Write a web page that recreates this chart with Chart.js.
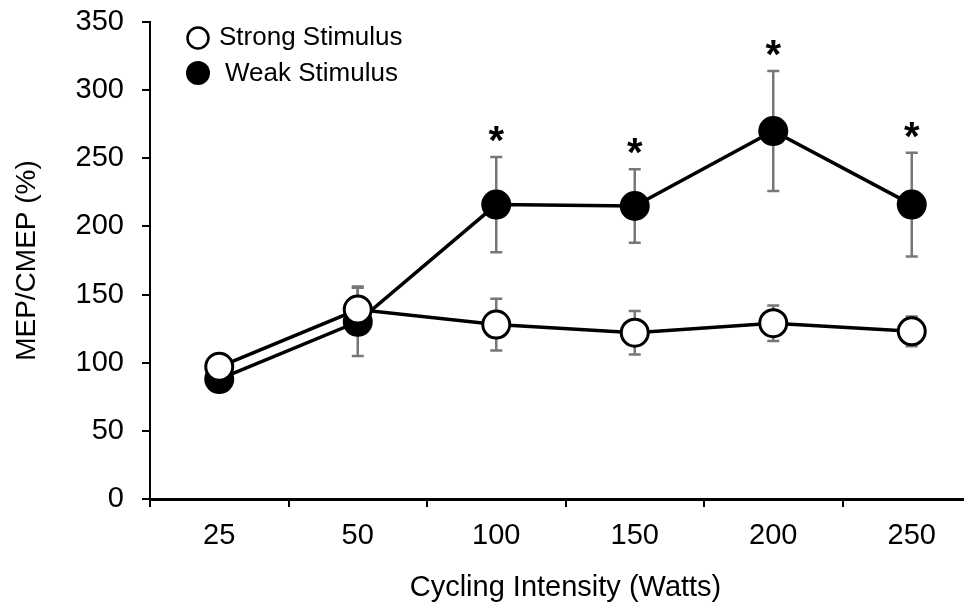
<!DOCTYPE html>
<html>
<head>
<meta charset="utf-8">
<script src="https://cdn.jsdelivr.net/npm/chart.js@4/dist/chart.umd.min.js"></script>
<style>
  html, body { margin: 0; padding: 0; background: #fff; overflow: hidden; }
  #wrap { width: 1000px; height: 609px; }
</style>
</head>
<body>
<div id="wrap"><canvas id="canvas" width="1000" height="609"></canvas></div>
<script>
// values
var intensities = ['25', '50', '100', '150', '200', '250'];
var strongMean = [97, 139, 128, 122, 129, 123];
var strongSD   = [6, 17, 19, 16, 13, 11];
var weakMean   = [88, 130, 216, 215, 270, 216];
var weakSD     = [6, 25, 35, 27, 44, 38];
var weakSig    = [false, false, true, true, true, true];
var yTicks     = [0, 50, 100, 150, 200, 250, 300, 350];

var FONT = '"Liberation Sans", Arial, sans-serif';

var errorBars = {
    id: 'errorBars',
    beforeDatasetsDraw: function (chart) {
        var ctx = chart.ctx, y = chart.scales.y;
        chart.data.datasets.forEach(function (ds, di) {
            var meta = chart.getDatasetMeta(di);
            ctx.save();
            ctx.strokeStyle = '#777';
            ctx.lineWidth = 2.5;
            meta.data.forEach(function (pt, i) {
                var hi = y.getPixelForValue(ds.data[i] + ds.sd[i]);
                var lo = y.getPixelForValue(ds.data[i] - ds.sd[i]);
                ctx.beginPath();
                ctx.moveTo(pt.x, hi); ctx.lineTo(pt.x, lo);
                ctx.moveTo(pt.x - 6, hi); ctx.lineTo(pt.x + 6, hi);
                ctx.moveTo(pt.x - 6, lo); ctx.lineTo(pt.x + 6, lo);
                ctx.stroke();
            });
            ctx.restore();
        });
    },
    afterDatasetsDraw: function (chart) {
        var ctx = chart.ctx, y = chart.scales.y;
        var meta = chart.getDatasetMeta(1);
        ctx.save();
        ctx.fillStyle = '#000';
        ctx.font = 'bold 40px ' + FONT;
        ctx.textAlign = 'center';
        ctx.textBaseline = 'middle';
        meta.data.forEach(function (pt, i) {
            if (!weakSig[i]) return;
            var top = y.getPixelForValue(weakMean[i] + weakSD[i]);
            ctx.fillText('*', pt.x, top - 14);
        });
        // legend
        ctx.font = '26px ' + FONT;
        ctx.textAlign = 'left';
        ctx.lineWidth = 2.5;
        ctx.strokeStyle = '#000';
        ctx.beginPath(); ctx.arc(198, 38, 10.5, 0, Math.PI * 2);
        ctx.fillStyle = '#fff'; ctx.fill(); ctx.stroke();
        ctx.fillStyle = '#000';
        ctx.fillText(chart.data.datasets[0].label, 219, 38);
        ctx.beginPath(); ctx.arc(198, 73, 12, 0, Math.PI * 2); ctx.fill();
        ctx.fillText(chart.data.datasets[1].label, 225, 74);
        ctx.restore();
    }
};

var ctx = document.getElementById('canvas').getContext('2d');
var chart = new Chart(ctx, {
    type: 'line',
    data: {
        labels: intensities,
        datasets: [{
            label: 'Strong Stimulus',
            data: strongMean,
            sd: strongSD,
            order: 0,
            borderColor: '#000',
            borderWidth: 3.5,
            pointRadius: 13.5,
            pointBorderWidth: 3,
            pointBackgroundColor: '#fff',
            pointBorderColor: '#000'
        }, {
            label: 'Weak Stimulus',
            data: weakMean,
            sd: weakSD,
            order: 1,
            borderColor: '#000',
            borderWidth: 3.5,
            pointRadius: 15,
            pointBorderWidth: 0,
            pointBackgroundColor: '#000',
            pointBorderColor: '#000'
        }]
    },
    options: {
        responsive: false,
        animation: false,
        layout: { padding: { top: 22, right: 19, bottom: 0, left: 0 } },
        plugins: { legend: { display: false }, tooltip: { enabled: false } },
        scales: {
            x: {
                offset: true,
                grid: { offset: true, drawOnChartArea: false, drawTicks: true, tickLength: 8, color: '#000', lineWidth: 2 },
                border: { color: '#000', width: 3 },
                ticks: { color: '#000', font: { family: FONT, size: 29 }, padding: 12, maxRotation: 0 },
                title: { display: true, text: 'Cycling Intensity (Watts)', color: '#000', font: { family: FONT, size: 29 }, padding: { top: 12 } },
                afterFit: function (s) { s.height = 110; s.paddingLeft = 0; s.paddingRight = 0; }
            },
            y: {
                min: 0,
                max: 350,
                afterBuildTicks: function (s) { s.ticks = yTicks.map(function (v) { return { value: v }; }); },
                grid: { drawOnChartArea: false, drawTicks: true, tickLength: 8, color: '#000', lineWidth: 2 },
                border: { color: '#000', width: 2 },
                ticks: { color: '#000', font: { family: FONT, size: 29 }, padding: 18 },
                title: { display: true, text: 'MEP/CMEP (%)', color: '#000', font: { family: FONT, size: 28 }, padding: { top: 10, bottom: 0 } },
                afterFit: function (s) { s.width = 150; s.paddingTop = 0; s.paddingBottom = 0; }
            }
        }
    },
    plugins: [errorBars]
});
</script>
</body>
</html>
